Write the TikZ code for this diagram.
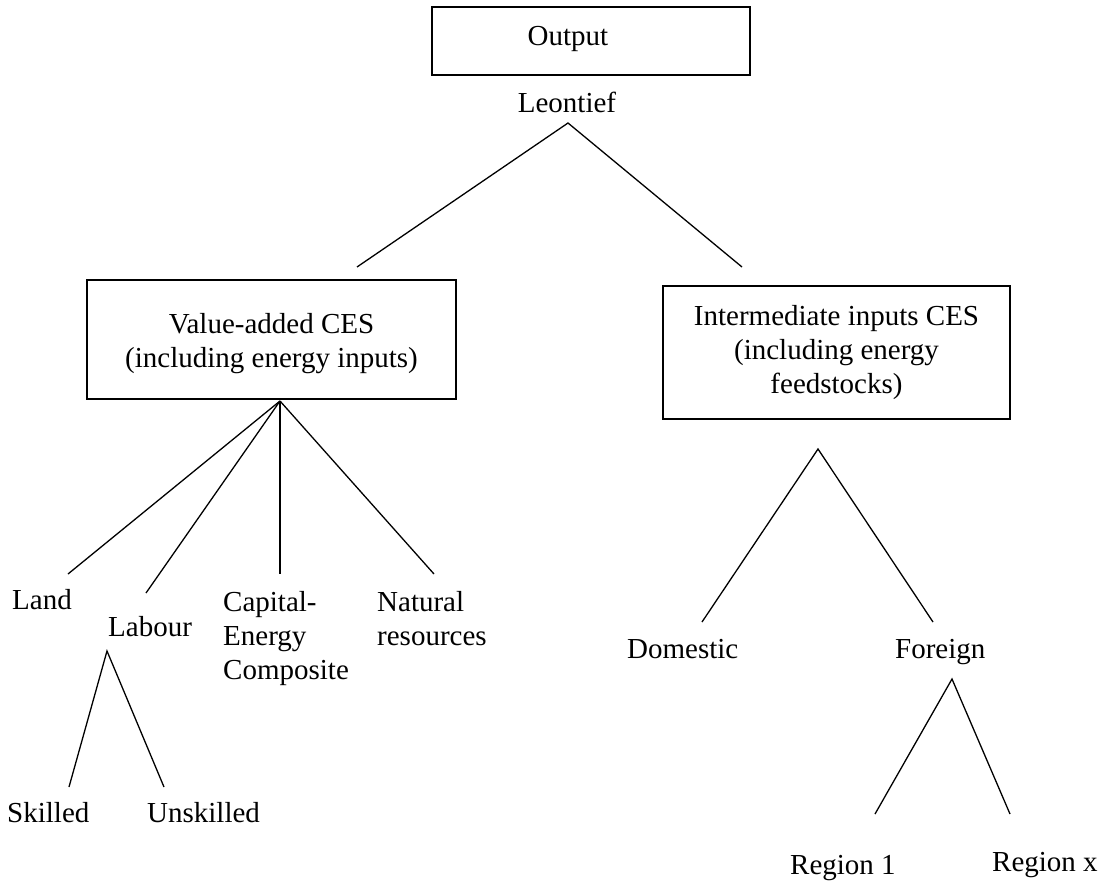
\documentclass[tikz,border=0pt]{standalone}
\usepackage{fontspec}
\setmainfont{Liberation Serif}
\tikzset{
  box/.style={draw, line width=1.8pt, inner sep=0pt},
  txt/.style={font=\fontsize{29}{34}\selectfont, inner sep=0pt},
  link/.style={line width=1.3pt},
}
\begin{document}
\begin{tikzpicture}[x=1pt,y=-1pt]
\useasboundingbox (0,0) rectangle (1100,881);
% top
\node[box, minimum width=318pt, minimum height=68pt] (out) at (591,41) {};
\node[txt, anchor=base] (outtxt) at (568,45) {Output};
\node[txt, anchor=base] (leon) at (567,112) {Leontief};
\coordinate (leonA) at (568,123);
\coordinate (leonL) at (357,267);
\coordinate (leonR) at (742,267);
\draw[link] (leonL) -- (leonA) -- (leonR);
% value added
\node[box, txt, align=center, minimum width=369pt, minimum height=119pt] (va) at (271.5,339.5) {\rule{0pt}{28pt}Value-added CES\\(including energy inputs)};
\coordinate (vaA) at (280,401);
\coordinate (landE) at (68,574);
\coordinate (labE) at (146,593);
\coordinate (capE) at (280,574);
\coordinate (natE) at (434,574);
\draw[link] (vaA) -- (landE);
\draw[link] (vaA) -- (labE);
\draw[link] (vaA) -- (capE);
\draw[link] (vaA) -- (natE);
\node[txt, anchor=base west] (land) at (12,609) {Land};
\node[txt, anchor=base west] (labour) at (108,636) {Labour};
\node[txt, anchor=north west, align=left] (cap) at (223,591) {Capital-\\Energy\\Composite};
\node[txt, anchor=north west, align=left] (nat) at (377,591) {Natural\\resources};
\coordinate (labA) at (107,651);
\coordinate (skE) at (69,787);
\coordinate (unE) at (164,787);
\draw[link] (skE) -- (labA) -- (unE);
\node[txt, anchor=base west] (skilled) at (7,822) {Skilled};
\node[txt, anchor=base west] (unskilled) at (147,822) {Unskilled};
% intermediate
\node[box, txt, align=center, minimum width=347pt, minimum height=133pt] (inter) at (836.5,352.5) {Intermediate inputs CES\\(including energy\\feedstocks)};
\coordinate (intA) at (818,449);
\coordinate (domE) at (702,622);
\coordinate (forE) at (933,622);
\draw[link] (domE) -- (intA) -- (forE);
\node[txt, anchor=base west] (domestic) at (627,658) {Domestic};
\node[txt, anchor=base west] (foreign) at (895,658) {Foreign};
\coordinate (forA) at (952,679);
\coordinate (r1E) at (875,814);
\coordinate (rxE) at (1010,814);
\draw[link] (r1E) -- (forA) -- (rxE);
\node[txt, anchor=base west] (region1) at (790,874) {Region 1};
\node[txt, anchor=base west] (regionx) at (992,871) {Region x};
\end{tikzpicture}
\end{document}
